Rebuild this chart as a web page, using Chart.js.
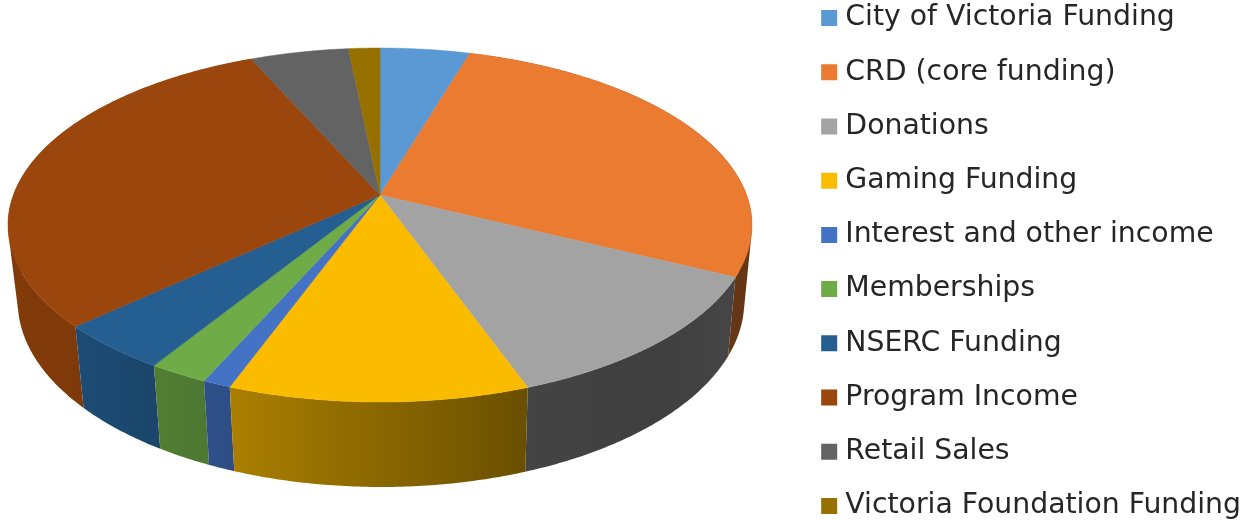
<!DOCTYPE html>
<html><head><meta charset="utf-8">
<style>html,body{margin:0;padding:0;background:#fff;overflow:hidden;width:1256px;height:520px}
#w{position:absolute;left:0;top:-30px;width:1256px;height:580px;filter:blur(.45px)}</style>
<script src="https://cdn.jsdelivr.net/npm/chart.js@4/dist/chart.umd.min.js"></script>
</head><body><div id="w"><canvas id="c"></canvas></div>
<script>
const categories=["City of Victoria Funding","CRD (core funding)","Donations","Gaming Funding","Interest and other income","Memberships","NSERC Funding","Program Income","Retail Sales","Victoria Foundation Funding"];
const shares=[4.6,27.7,12.2,11.1,1.05,2.2,4.3,30.2,5.05,1.6];
const colors=["#5A99D3","#EA7B31","#A3A3A3","#FBBC00","#4472C4","#6FAB46","#255E91","#9A460D","#636363","#967100"];

// perspective view of the disc
const Y=30,P=.1695;
const topRim={x:380,y:195+Y,a:171.9,b:366.6}, lowRim={x:381,y:270+Y,a:180.2,b:358};
const proj=(r,t)=>{const u=Math.sin(t),v=-Math.cos(t),d=1-P*v;return [r.x+r.b*u/d,r.y+r.a*v/d,u,v]};
const SU=[-1,-.7,-.34,.34,.6,1],SV=[.84,.8,.68,.42,.39,.44];
function shadeAt(u){for(let i=1;i<SU.length;i++)if(u<=SU[i]){const f=(u-SU[i-1])/(SU[i]-SU[i-1]);return SV[i-1]+f*(SV[i]-SV[i-1])}return SV[SV.length-1]}
function dark(hex,k){const n=parseInt(hex.slice(1),16);return `rgb(${(n>>16)*k|0},${((n>>8)&255)*k|0},${(n&255)*k|0})`}
const disc3d={id:'disc3d',beforeDatasetDraw(chart,args){
  const ctx=chart.ctx,arcs=chart.getDatasetMeta(args.index).data;
  const spans=arcs.map((a,i)=>{const s=a.startAngle+Math.PI/2,e=a.endAngle+Math.PI/2,n=Math.max(4,Math.ceil((e-s)/.01)),pts=[];
    for(let k=0;k<=n;k++)pts.push(s+(e-s)*k/n);return {i,pts,col:a.options.backgroundColor,mid:-Math.cos((s+e)/2)}});
  ctx.save();
  [...spans].sort((p,q)=>p.mid-q.mid).forEach(sp=>{
    const T=sp.pts.map(t=>proj(topRim,t)),B=sp.pts.map(t=>proj(lowRim,t));
    if(Math.max(...T.map(p=>p[3]))<-.1)return;
    const xs=T.map(p=>p[0]),x0=Math.min(...xs),x1=Math.max(...xs),g=ctx.createLinearGradient(x0,0,x1,0);
    const order=[...T].sort((a,b)=>a[0]-b[0]);
    for(let k=0;k<=6;k++){const p=order[Math.round(k/6*(order.length-1))];g.addColorStop(x1>x0?Math.min(1,Math.max(0,(p[0]-x0)/(x1-x0))):0,dark(sp.col,shadeAt(p[2])))}
    ctx.fillStyle=g;
    ctx.beginPath();
    for(let k=0;k<T.length-1;k++){
      const q=[T[k],T[k+1],B[k+1],B[k]];
      let area=0;for(let j=0;j<4;j++){const m=q[j],o=q[(j+1)%4];area+=m[0]*o[1]-o[0]*m[1]}
      if(area<0)q.reverse();
      ctx.moveTo(q[0][0],q[0][1]);for(let j=1;j<4;j++)ctx.lineTo(q[j][0],q[j][1]);ctx.closePath();
    }
    ctx.fill('nonzero');
  });
  spans.forEach(sp=>{ctx.beginPath();ctx.moveTo(topRim.x,topRim.y);sp.pts.forEach(t=>{const p=proj(topRim,t);ctx.lineTo(p[0],p[1])});ctx.closePath();
    ctx.fillStyle=sp.col;ctx.strokeStyle=sp.col;ctx.lineWidth=.5;ctx.fill();ctx.stroke()});
  ctx.restore();
  return false;
}};
Chart.register(disc3d);
const base=Chart.overrides.pie.plugins.legend.labels.generateLabels;
new Chart(document.getElementById('c'),{type:'pie',
 data:{labels:categories,datasets:[{data:shares,backgroundColor:colors,borderWidth:0}]},
 options:{responsive:true,maintainAspectRatio:false,animation:false,
  layout:{padding:{top:4,right:5}},
  plugins:{tooltip:{enabled:false},
   legend:{position:'right',labels:{boxWidth:4,boxHeight:4,padding:25.9,color:'#262626',font:{family:'"DejaVu Sans"',size:28.3},
     generateLabels(chart){return base(chart).map(l=>({...l,strokeStyle:l.fillStyle,lineWidth:12}))}}}}}});
</script></body></html>
